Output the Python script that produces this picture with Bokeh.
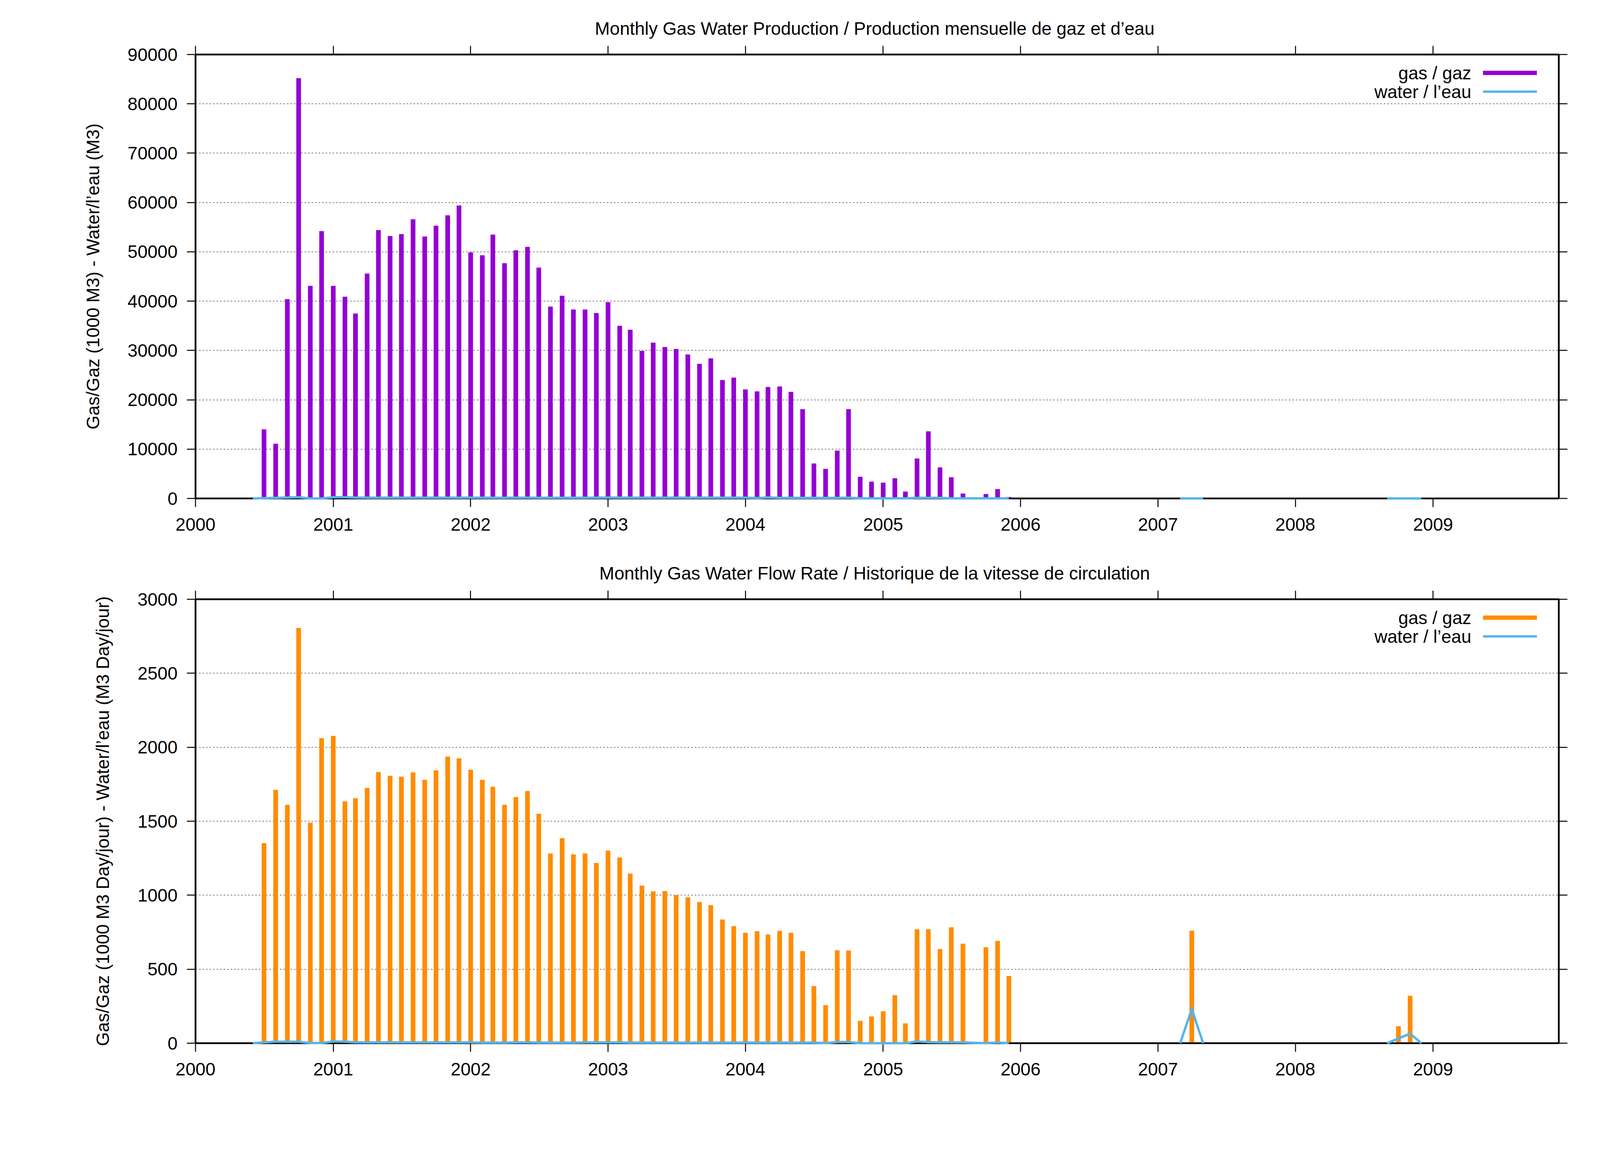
import calendar
from datetime import datetime
from bokeh.plotting import figure
from bokeh.layouts import column
from bokeh.models import (Range1d, FixedTicker, SingleIntervalTicker, DatetimeTickFormatter,
                          LinearAxis, DatetimeAxis, NumeralTickFormatter, CustomJSTickFormatter,
                          ColumnDataSource, Label, BoxAnnotation)
from bokeh.embed import file_html
from bokeh.resources import INLINE

# ---------------- data ----------------
months = [
    "2000-06", "2000-07", "2000-08", "2000-09", "2000-10", "2000-11", "2000-12",
    "2001-01", "2001-02", "2001-03", "2001-04", "2001-05", "2001-06",
    "2001-07", "2001-08", "2001-09", "2001-10", "2001-11", "2001-12",
    "2002-01", "2002-02", "2002-03", "2002-04", "2002-05", "2002-06",
    "2002-07", "2002-08", "2002-09", "2002-10", "2002-11", "2002-12",
    "2003-01", "2003-02", "2003-03", "2003-04", "2003-05", "2003-06",
    "2003-07", "2003-08", "2003-09", "2003-10", "2003-11", "2003-12",
    "2004-01", "2004-02", "2004-03", "2004-04", "2004-05", "2004-06",
    "2004-07", "2004-08", "2004-09", "2004-10", "2004-11", "2004-12",
    "2005-01", "2005-02", "2005-03", "2005-04", "2005-05", "2005-06",
    "2005-07", "2005-08", "2005-10", "2005-11", "2005-12",
    "2007-03", "2007-04", "2007-05",
    "2008-09", "2008-10", "2008-11", "2008-12",
]

# Monthly production: gas (1000 m3), water (m3)
gas_prod = [
    0, 14000, 11100, 40400, 85200, 43100, 54200,
    43100, 40900, 37500, 45600, 54400, 53200, 53600, 56600, 53100, 55300, 57400, 59400,
    49900, 49300, 53500, 47700, 50300, 51000, 46800, 38900, 41100, 38300, 38300, 37600,
    39800, 35000, 34200, 29900, 31600, 30700, 30300, 29200, 27300, 28400, 24000, 24500,
    22100, 21700, 22600, 22700, 21600, 18100, 7100, 6000, 9700, 18100, 4400, 3400,
    3200, 4100, 1400, 8100, 13600, 6300, 4300, 1000, 900, 1900, 300,
    0, 150, 0,
    0, 60, 200, 0,
]
water_prod = [
    0, 60, 120, 200, 250, 0, 0,
    250, 250, 180, 150, 150, 150, 150, 150, 150, 150, 150, 150,
    150, 150, 140, 140, 150, 150, 140, 130, 140, 130, 140, 150,
    180, 160, 150, 150, 150, 150, 150, 150, 150, 150, 150, 150,
    150, 80, 200, 120, 120, 120, 120, 100, 120, 150, 20, 20,
    20, 20, 20, 120, 120, 120, 20, 20, 20, 20, 20,
    0, 0, 0,
    0, 0, 0, 0,
]

# Monthly flow rate: gas (1000 m3/day), water (m3/day)
gas_rate = [
    0, 1352, 1712, 1611, 2806, 1490, 2061,
    2077, 1634, 1655, 1725, 1832, 1807, 1801, 1830, 1780, 1844, 1937, 1925,
    1848, 1780, 1733, 1611, 1663, 1704, 1550, 1282, 1385, 1276, 1282, 1218,
    1302, 1255, 1146, 1065, 1026, 1028, 1000, 986, 954, 933, 836, 791,
    746, 757, 734, 759, 746, 622, 386, 257, 628, 626, 151, 181,
    215, 325, 134, 770, 770, 636, 783, 673, 648, 691, 454,
    0, 760, 0,
    0, 115, 320, 0,
]
water_rate = [
    0, 5, 10, 10, 10, 1, 1,
    12, 10, 6, 5, 5, 5, 5, 5, 5, 5, 5, 5,
    5, 4, 4, 4, 5, 5, 4, 4, 4, 4, 5, 5,
    5, 5, 4, 4, 4, 4, 4, 4, 4, 4, 4, 4,
    4, 4, 4, 4, 4, 4, 4, 0, 8, 8, 0, 0,
    0, 0, 0, 12, 7, 6, 6, 5, 0, 5, 0,
    0, 231, 0,
    0, 32, 64, 0,
]

year_ticks = [2000, 2001, 2002, 2003, 2004, 2005, 2006, 2007, 2008, 2009]

titles = [
    "Monthly Gas  Water Production / Production mensuelle de gaz et d\u2019eau",
    "Monthly Gas  Water Flow Rate / Historique de la vitesse de circulation",
]
ylabels = [
    "Gas/Gaz (1000 M3) - Water/l\u2019eau (M3)",
    "Gas/Gaz (1000 M3 Day/jour) - Water/l\u2019eau (M3 Day/jour)",
]
legend_labels = ["gas / gaz", "water / l\u2019eau"]

# ---------------- helpers ----------------
FONT = "Liberation Sans"
FS = "46px"
FRAME_W, FRAME_H = 3490, 1136
GAS_COLORS = ["#9400d3", "#ff8c00"]
WATER_COLOR = "#56b4e9"
dates = [datetime(int(m[:4]), int(m[5:]), 1) for m in months]


def ms(dt):
    return calendar.timegm(dt.timetuple()) * 1000.0


xticker = FixedTicker(ticks=[ms(datetime(y, 1, 1)) for y in year_ticks])
fmt = DatetimeTickFormatter(years="%Y", months="%Y", days="%Y", hours="%Y",
                            hourmin="%Y", minutes="%Y", minsec="%Y", seconds="%Y",
                            milliseconds="%Y", microseconds="%Y")
blank = CustomJSTickFormatter(code="return ''")


def runs(xs, ys, max_gap_days=70):
    """split a monthly series where there is no record for a long time"""
    out_x, out_y = [[xs[0]]], [[ys[0]]]
    for i in range(1, len(xs)):
        if (xs[i] - xs[i - 1]).days > max_gap_days:
            out_x.append([])
            out_y.append([])
        out_x[-1].append(xs[i])
        out_y[-1].append(ys[i])
    return out_x, out_y


def style_axis(ax, labels=True):
    ax.axis_line_width = 4
    ax.axis_line_color = "black"
    ax.major_tick_line_width = 2.5
    ax.major_tick_line_color = "black"
    ax.major_tick_out = 22
    ax.major_tick_in = 0
    ax.minor_tick_line_color = None
    ax.major_label_text_font = FONT
    ax.major_label_text_color = "black"
    ax.major_label_text_font_size = FS
    if not labels:
        ax.formatter = blank
        ax.major_label_standoff = 0


def make_fig(title, ylabel, gas, water, ymax, yint, gas_color, top_border, bottom_border):
    p = figure(x_axis_type="datetime", frame_width=FRAME_W, frame_height=FRAME_H,
               x_range=Range1d(datetime(2000, 1, 1), datetime(2009, 12, 1)),
               y_range=Range1d(0, ymax),
               output_backend="svg", toolbar_location=None,
               min_border_left=500, min_border_right=40,
               min_border_top=top_border, min_border_bottom=bottom_border)
    p.background_fill_color = "white"
    p.border_fill_color = "white"
    p.outline_line_color = "black"
    p.outline_line_width = 4

    p.title.text = title
    p.title.text_font = FONT
    p.title.text_font_size = FS
    p.title.text_font_style = "normal"
    p.title.text_color = "black"
    p.title.align = "center"
    p.title.standoff = 38

    yticker = SingleIntervalTicker(interval=yint, num_minor_ticks=0)

    p.xaxis.ticker = xticker
    p.xaxis.formatter = fmt
    style_axis(p.xaxis[0])
    p.xaxis.major_label_standoff = 28

    p.yaxis.ticker = yticker
    p.yaxis.formatter = NumeralTickFormatter(format="0")
    style_axis(p.yaxis[0])
    p.yaxis.major_label_standoff = 24
    p.yaxis.axis_label = ylabel
    p.yaxis.axis_label_text_font = FONT
    p.yaxis.axis_label_text_font_size = FS
    p.yaxis.axis_label_text_font_style = "normal"
    p.yaxis.axis_label_text_color = "black"
    p.yaxis.axis_label_standoff = 60

    top_ax = DatetimeAxis(ticker=xticker)
    style_axis(top_ax, labels=False)
    p.add_layout(top_ax, "above")
    right_ax = LinearAxis(ticker=yticker)
    style_axis(right_ax, labels=False)
    p.add_layout(right_ax, "right")

    p.xgrid.visible = False
    p.ygrid.ticker = yticker
    p.ygrid.grid_line_color = "black"
    p.ygrid.grid_line_alpha = 0.7
    p.ygrid.grid_line_width = 1.5
    p.ygrid.grid_line_dash = "4 5"

    src = ColumnDataSource(dict(date=dates, gas=gas))
    p.segment(x0="date", y0=0, x1="date", y1="gas", source=src,
              line_width=12, line_color=gas_color, line_cap="butt")

    wx, wy = runs(dates, water)
    p.multi_line(xs=wx, ys=wy, line_width=6, line_color=WATER_COLOR,
                 line_join="miter", level="overlay")

    # gnuplot-style key: text right-aligned, sample line to its right
    rows = [(FRAME_H - 47, gas_color, 11), (FRAME_H - 95, WATER_COLOR, 6)]
    for lab, (yc, col, thick) in zip(legend_labels, rows):
        p.add_layout(Label(x=FRAME_W - 224, y=yc, x_units="screen", y_units="screen",
                           text=lab, text_align="right", text_baseline="middle",
                           text_font=FONT, text_font_size=FS, text_color="black"))
        p.add_layout(BoxAnnotation(left=FRAME_W - 194, right=FRAME_W - 56,
                                   bottom=yc - thick / 2, top=yc + thick / 2,
                                   left_units="screen", right_units="screen",
                                   bottom_units="screen", top_units="screen",
                                   fill_color=col, fill_alpha=1.0, line_color=None))
    return p


p1 = make_fig(titles[0], ylabels[0], gas_prod, water_prod, 90000, 10000, GAS_COLORS[0], 139, 138)
p2 = make_fig(titles[1], ylabels[1], gas_rate, water_rate, 3000, 500, GAS_COLORS[1], 120, 150)

layout = column(p1, p2, spacing=0)
open("out.html", "w").write(file_html(layout, INLINE))
